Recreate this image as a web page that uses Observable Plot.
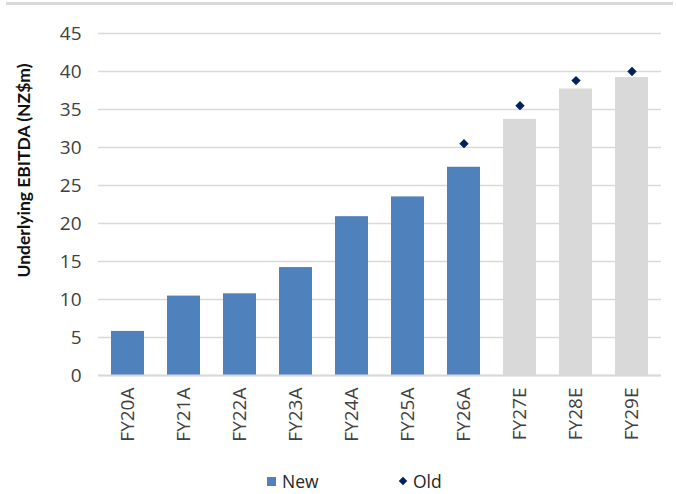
<!DOCTYPE html>
<html>
<head>
<meta charset="utf-8">
<script src="https://cdn.jsdelivr.net/npm/d3@7"></script>
<script src="https://cdn.jsdelivr.net/npm/@observablehq/plot@0.6"></script>
<style>
  html, body { margin: 0; padding: 0; background: #fff; }
  body { width: 676px; height: 494px; position: relative; font-family: "Open Sans", sans-serif; overflow: hidden; }
  #topline { position: absolute; left: 6px; right: 3px; top: 2px; height: 3px; background: #d9d9d9; }
  #chart { position: absolute; left: 0; top: 0; }
  #legend { position: absolute; top: 468px; left: 0; width: 676px; height: 26px; font-size: 17.5px; color: #262626; }
  .item { position: absolute; top: 0px; display: flex; align-items: center; line-height: 26px; }
  .sw { width: 9px; height: 9px; background: #4f81bd; margin-right: 6px; }
  .dm { width: 6px; height: 6px; background: #002060; transform: rotate(45deg); margin-right: 7px; margin-left: 1px; }
</style>
</head>
<body>
<div id="topline"></div>
<div id="chart"></div>
<div id="legend">
  <div class="item" style="left:267px"><div class="sw"></div><span>New</span></div>
  <div class="item" style="left:399px"><div class="dm"></div><span>Old</span></div>
</div>
<script>
const categories = ["FY20A","FY21A","FY22A","FY23A","FY24A","FY25A","FY26A","FY27E","FY28E","FY29E"];
const newValues = [5.8, 10.45, 10.75, 14.2, 20.9, 23.5, 27.4, 33.7, 37.7, 39.2];
const barKind = ["actual","actual","actual","actual","actual","actual","actual","estimate","estimate","estimate"];
const oldCategories = ["FY26A","FY27E","FY28E","FY29E"];
const oldValues = [30.5, 35.5, 38.8, 40.0];
const yTicks = [0,5,10,15,20,25,30,35,40,45];

const bars = categories.map((c, i) => ({cat: c, value: newValues[i], kind: barKind[i]}));
const olds = oldCategories.map((c, i) => ({cat: c, value: oldValues[i]}));

const chart = Plot.plot({
  width: 676,
  height: 462,
  marginLeft: 98,
  marginRight: 15,
  marginTop: 33,
  marginBottom: 87,
  style: {fontFamily: "'Open Sans', sans-serif", fontSize: "19px", color: "#404040", background: "transparent"},
  x: {domain: categories, paddingInner: 0.41, paddingOuter: 0.2, label: null},
  y: {domain: [0, 45], ticks: yTicks, label: null},
  color: {domain: ["actual","estimate"], range: ["#4f81bd", "#d9d9d9"]},
  marks: [
    Plot.gridY(yTicks, {stroke: "#d9d9d9", strokeOpacity: 1, strokeWidth: 1.5}),
    Plot.barY(bars, {x: "cat", y: "value", fill: "kind"}),
    Plot.ruleY([0], {stroke: "#d9d9d9", strokeWidth: 2}),
    Plot.dot(olds, {x: "cat", y: "value", symbol: "diamond2", r: 4.2, fill: "#002060", stroke: "none"}),
    Plot.axisY(yTicks, {tickSize: 0, tickPadding: 17, fontSize: 19, fill: "#404040"}),
    Plot.axisX({tickSize: 0, tickRotate: -90, tickPadding: 12, fontSize: 19, fill: "#404040"}),
    Plot.text(["Underlying EBITDA (NZ$m)"], {frameAnchor: "left", textAnchor: "middle", dx: -74, dy: -34, rotate: -90, fontFamily: "Lato, sans-serif", fontWeight: "bold", fontSize: 17.5, fill: "#111"})
  ]
});
document.getElementById("chart").appendChild(chart);
</script>
</body>
</html>
